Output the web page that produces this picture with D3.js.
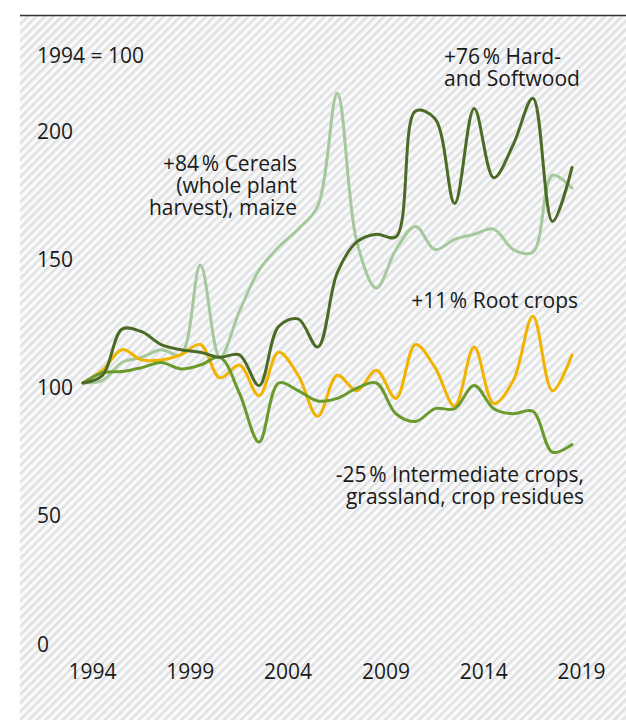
<!DOCTYPE html>
<html>
<head>
<meta charset="utf-8">
<script src="https://cdn.jsdelivr.net/npm/d3@7"></script>
<style>
  body { margin: 0; background: #fff; }
  text { font-family: "Open Sans", sans-serif; fill: #1a1a1a; }
</style>
</head>
<body>
<svg></svg>
<script>
// years on the x axis
var years = [1994, 1995, 1996, 1997, 1998, 1999, 2000, 2001, 2002, 2003, 2004, 2005, 2006,
  2007, 2008, 2009, 2010, 2011, 2012, 2013, 2014, 2015, 2016, 2017, 2018, 2019];
var xTicks = [1994, 1999, 2004, 2009, 2014, 2019];
var yTicks = [0, 50, 100, 150, 200];

// index values, 1994 = 100
var cereals = [100, 101, 108, 110, 113, 111, 146, 110, 128, 144, 153, 160, 169,
  213, 155, 137, 152, 161, 152, 156, 158, 160, 152, 151, 181, 176];
var wood = [100, 103, 121, 120, 115, 113, 112, 110, 111, 99, 122, 125, 114,
  143, 155, 158, 157, 206, 203, 170, 207, 180, 193, 211, 163, 184];
var roots = [100, 105, 113, 109, 109, 111, 115, 102, 107, 95, 112, 103, 87,
  103, 97, 105, 94, 115, 106, 91, 114, 92, 101, 126, 97, 111];
var intermediate = [100, 104, 104.5, 106, 108, 105.5, 107, 110, 96, 77, 100, 97, 93,
  94, 98, 100, 88, 85, 90, 90, 99, 90, 88, 89, 73, 76];

var series = [
  {name: 'cereals', values: cereals, color: '#a5c99c'},
  {name: 'roots', values: roots, color: '#f2b300'},
  {name: 'intermediate', values: intermediate, color: '#6a9a2c'},
  {name: 'wood', values: wood, color: '#4b6a26'}
];

var screen = {width: 626, height: 720};
var fontSize = 21;

var svg = d3.select('svg')
  .attr('width', screen.width)
  .attr('height', screen.height);

// hatched background
var defs = svg.append('defs');
var pat = defs.append('pattern')
  .attr('id', 'hatch')
  .attr('patternUnits', 'userSpaceOnUse')
  .attr('width', 6)
  .attr('height', 6)
  .attr('patternTransform', 'rotate(45)');
pat.append('rect').attr('width', 6).attr('height', 6).attr('fill', '#fafafa');
pat.append('rect').attr('x', 0).attr('width', 2.6).attr('height', 6).attr('fill', '#dfe1e3');

svg.append('rect')
  .attr('x', 20).attr('y', 15)
  .attr('width', screen.width - 20)
  .attr('height', screen.height - 15)
  .attr('fill', 'url(#hatch)');
svg.append('line')
  .attr('x1', 20).attr('x2', screen.width)
  .attr('y1', 15.5).attr('y2', 15.5)
  .attr('stroke', '#333').attr('stroke-width', 1.5);

var xScale = d3.scaleLinear()
  .domain([1994, 2019])
  .range([83, 572]);
var yScale = d3.scaleLinear()
  .domain([0, 200])
  .range([639.5, 126.5]);

// axes, labels only
var xAxis = d3.axisBottom(xScale).tickValues(xTicks).tickFormat(d3.format('d'))
  .tickSize(0).tickPadding(0);
var gx = svg.append('g')
  .attr('transform', 'translate(9,664)')
  .call(xAxis);
gx.select('.domain').remove();
gx.selectAll('text').attr('font-size', fontSize).attr('font-family', '"Open Sans", sans-serif').attr('fill', '#1a1a1a');

var yAxis = d3.axisRight(yScale).tickValues(yTicks)
  .tickSize(0).tickPadding(0);
var gy = svg.append('g')
  .attr('transform', 'translate(37,5)')
  .call(yAxis);
gy.select('.domain').remove();
gy.selectAll('text').attr('font-size', fontSize).attr('font-family', '"Open Sans", sans-serif').attr('fill', '#1a1a1a');

svg.append('text')
  .attr('x', 37).attr('y', 63)
  .attr('font-size', fontSize)
  .text('1994 = 100');

// lines
var drawLine = d3.line()
  .x(function(d, i) { return xScale(years[i]); })
  .y(function(d) { return yScale(d); })
  .curve(d3.curveCatmullRom.alpha(0.5));

svg.selectAll('.series')
  .data(series)
  .enter()
  .append('path')
  .attr('class', 'series')
  .attr('d', function(d) { return drawLine(d.values); })
  .attr('fill', 'none')
  .attr('stroke', function(d) { return d.color; })
  .attr('stroke-width', 3)
  .attr('stroke-linejoin', 'round')
  .attr('stroke-linecap', 'round');

// annotations
var notes = [
  {x: 444, y: 64, anchor: 'start', lines: ['+76\u202f% Hard-', 'and Softwood']},
  {x: 297, y: 171, anchor: 'end', lines: ['+84\u202f% Cereals', '(whole plant', 'harvest), maize']},
  {x: 578, y: 308, anchor: 'end', lines: ['+11\u202f% Root crops']},
  {x: 584, y: 482, anchor: 'end', lines: ['-25\u202f% Intermediate crops,', 'grassland, crop residues']}
];
notes.forEach(function(n) {
  n.lines.forEach(function(l, i) {
    svg.append('text')
      .attr('x', n.x).attr('y', n.y + i * 22)
      .attr('font-size', fontSize)
      .attr('text-anchor', n.anchor)
      .text(l);
  });
});
</script>
</body>
</html>
